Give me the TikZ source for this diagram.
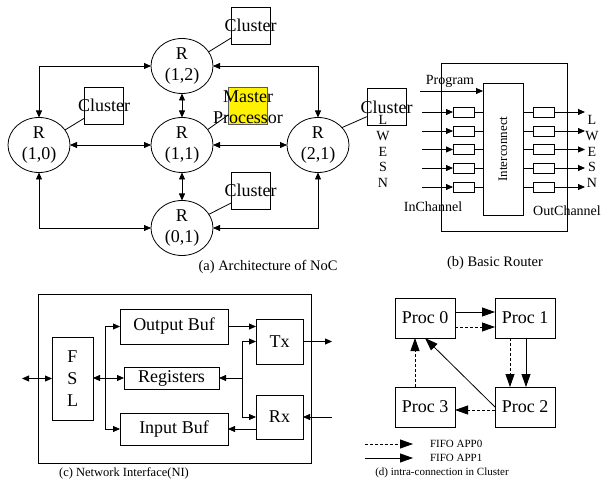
\documentclass[tikz,border=0pt]{standalone}
\usepackage{fontspec}
\setmainfont{Liberation Serif}
\usetikzlibrary{arrows.meta,shapes.geometric,calc}
\begin{document}
\begin{tikzpicture}[x=1pt,y=-1pt,
  every node/.style={inner sep=0pt, outer sep=0pt},
  line width=0.8pt,
  big/.style={font=\fontsize{18}{21}\selectfont},
  mid/.style={font=\fontsize{14}{16}\selectfont},
  captxt/.style={font=\fontsize{14.5}{16}\selectfont},
  smallcap/.style={font=\fontsize{12.5}{14}\selectfont},
  tinytxt/.style={font=\fontsize{11}{13}\selectfont},
  router/.style={ellipse, draw, minimum width=62pt, minimum height=55pt, align=center, big},
  clbox/.style={draw, minimum width=39pt, minimum height=37pt, label={[big]center:Cluster}},
  tip/.style={-{Triangle[length=7pt,width=6pt]}},
  dbl/.style={{Triangle[length=7pt,width=6pt]}-{Triangle[length=7pt,width=6pt]}},
  bigtip/.style={-{Triangle[length=13pt,width=9pt]}},
  buf/.style={draw, minimum width=21pt, minimum height=10pt},
  blk/.style={draw, big},
  proc/.style={draw, minimum width=60pt, minimum height=40pt, big},
  fifo0/.style={bigtip, dash pattern=on 3pt off 2pt},
  fifo1/.style={bigtip}
]
\useasboundingbox (0,0) rectangle (603,492);

% ---------------- (a) Architecture of NoC
\node[router] (R12) at (182,66) {R\\(1,2)};
\node[router] (R10) at (39,145) {R\\(1,0)};
\node[router] (R11) at (182,145) {R\\(1,1)};
\node[router] (R21) at (318,145) {R\\(2,1)};
\node[router] (R01) at (182,228) {R\\(0,1)};

\node[clbox] (C12) at (250.5,25.5) {};
\node[clbox] (C10) at (104,105.5) {};
\node[clbox] (C01) at (250.5,190.5) {};
\node[clbox] (C21) at (386.5,107) {};
\node[draw=black!65, fill=yellow, minimum width=39pt, minimum height=37pt] (MP) at (247.5,105.5) {};
\node[big, align=center] (MPt) at (248,107) {Master\\Processor};

\draw (R12.28) -- ($(C12.south west)!0.16!(C12.north west)$);
\draw (R10.30) -- ($(C10.south west)!0.16!(C10.north west)$);
\draw (R11.31) -- ($(MP.south west)!0.24!(MP.north west)$);
\draw (R01.27) -- ($(C01.south west)!0.16!(C01.north west)$);
\draw (R21.36) -- ($(C21.south west)!0.24!(C21.north west)$);

\draw[dbl] (R12.west) -| (R10.north);
\draw[dbl] (R12.east) -| (R21.north);
\draw[dbl] (R01.west) -| (R10.south);
\draw[dbl] (R01.east) -| (R21.south);
\draw[dbl] (R10) -- (R11);
\draw[dbl] (R11) -- (R21);
\draw[dbl] (R12) -- (R11);
\draw[dbl] (R11) -- (R01);

\node[captxt] (capa) at (268,267) {(a) Architecture of NoC};

% ---------------- (b) Basic Router
\node[draw, minimum width=126pt, minimum height=168pt] (RB) at (504,147) {};
\node[draw, minimum width=40pt, minimum height=132pt] (IC) at (503,149) {};
\node[font=\fontsize{13}{15}\selectfont, rotate=90] (ICt) at (IC) {Interconnect};
\foreach \y [count=\i] in {112,131,149.5,168,187}{
  \node[buf] (ib\i) at (463.5,\y) {};
  \node[buf] (ob\i) at (543.5,\y) {};
  \coordinate (in\i) at (422,\y);
  \coordinate (out\i) at (585,\y);
  \draw[tip] (in\i) -- (ib\i.west);
  \draw (ib\i.east) -- (ib\i.east -| IC.west);
  \draw (ob\i.west -| IC.east) -- (ob\i.west);
  \draw[tip] (ob\i.east) -- (out\i);
}
\foreach \t/\y in {L/120,W/136,E/152,S/167,N/183}{
  \node[mid] (ll\t) at (383,\y) {\t};
  \node[mid] (rl\t) at (592,\y) {\t};
}
\coordinate (prog) at (420,91);
\draw[tip] (prog) -- (prog -| IC.west);
\node[mid] (progt) at (450,81) {Program};
\node[mid] (inch) at (433,207) {InChannel};
\node[mid] (outch) at (567,211) {OutChannel};
\node[captxt] (capb) at (495,263) {(b) Basic Router};

% ---------------- (c) Network Interface
\node[draw, minimum width=273pt, minimum height=169pt] (NI) at (174.5,378.5) {};
\node[draw, minimum width=41pt, minimum height=83pt, align=center, font=\fontsize{18}{22}\selectfont] (FSL) at (72.5,378.5) {F\\S\\L};
\node[blk, minimum width=108pt, minimum height=35pt] (OB) at (174,326.5) {Output Buf};
\node[blk, minimum width=95pt, minimum height=22pt] (REG) at (171.5,378) {Registers};
\node[blk, minimum width=108pt, minimum height=32pt] (IB) at (174,429) {Input Buf};
\node[blk, minimum width=47pt, minimum height=45pt] (TX) at (279.5,341.5) {Tx};
\node[blk, minimum width=47pt, minimum height=44pt] (RX) at (279.5,417) {Rx};

\coordinate (ext) at (22,378.5);
\coordinate (busL) at (105,378);
\coordinate (busR) at (242,378);
\coordinate (txout) at (332,341.5);
\coordinate (rxin) at (332,417);
\draw[dbl] (ext) -- (FSL.west);
\draw[dbl] (FSL.east |- REG.west) -- (REG.west);
\draw[tip] (busL) |- (OB.west);
\draw[tip] (busL) |- (IB.west);
\draw[tip] (OB.east) -- (OB.east -| TX.west);
\draw[tip] (TX.east) -- (txout);
\draw[tip] (rxin) -- (RX.east);
\draw[tip] (IB.east -| RX.west) -- (IB.east);
\draw[tip] (busR) -- (REG.east);
\draw[tip] (busR) |- (TX.west);
\draw[tip] (busR) |- (RX.west);
\node[smallcap] (capc) at (124,473) {(c) Network Interface(NI)};

% ---------------- (d) intra-connection in Cluster
\node[proc] (P0) at (425,318) {Proc 0};
\node[proc] (P1) at (525,318) {Proc 1};
\node[proc] (P3) at (425,407) {Proc 3};
\node[proc] (P2) at (525,407) {Proc 2};

\draw[fifo1] ($(P0.east)+(0,-6)$) -- ($(P1.west)+(0,-6)$);
\draw[fifo0] ($(P0.east)+(0,9)$) -- ($(P1.west)+(0,9)$);
\draw[fifo0] ($(P1.south)+(-15,0)$) -- ($(P2.north)+(-15,0)$);
\draw[fifo1] ($(P1.south)+(1,0)$) -- ($(P2.north)+(1,0)$);
\draw[fifo0] ($(P2.west)+(0,3)$) -- ($(P3.east)+(0,3)$);
\draw[fifo0] ($(P3.north)+(-10,0)$) -- ($(P0.south)+(-10,0)$);
\draw[fifo1] (P2.west) -- (P0.south);

\coordinate (lg0a) at (365,444);
\coordinate (lg0b) at (413,444);
\coordinate (lg1a) at (365,458);
\coordinate (lg1b) at (413,458);
\draw[fifo0] (lg0a) -- (lg0b);
\draw[fifo1] (lg1a) -- (lg1b);
\node[tinytxt, anchor=west] (f0) at (430,444) {FIFO APP0};
\node[tinytxt, anchor=west] (f1) at (430,458) {FIFO APP1};
\node[tinytxt] (capd) at (442,473) {(d) intra-connection in Cluster};
\end{tikzpicture}
\end{document}
